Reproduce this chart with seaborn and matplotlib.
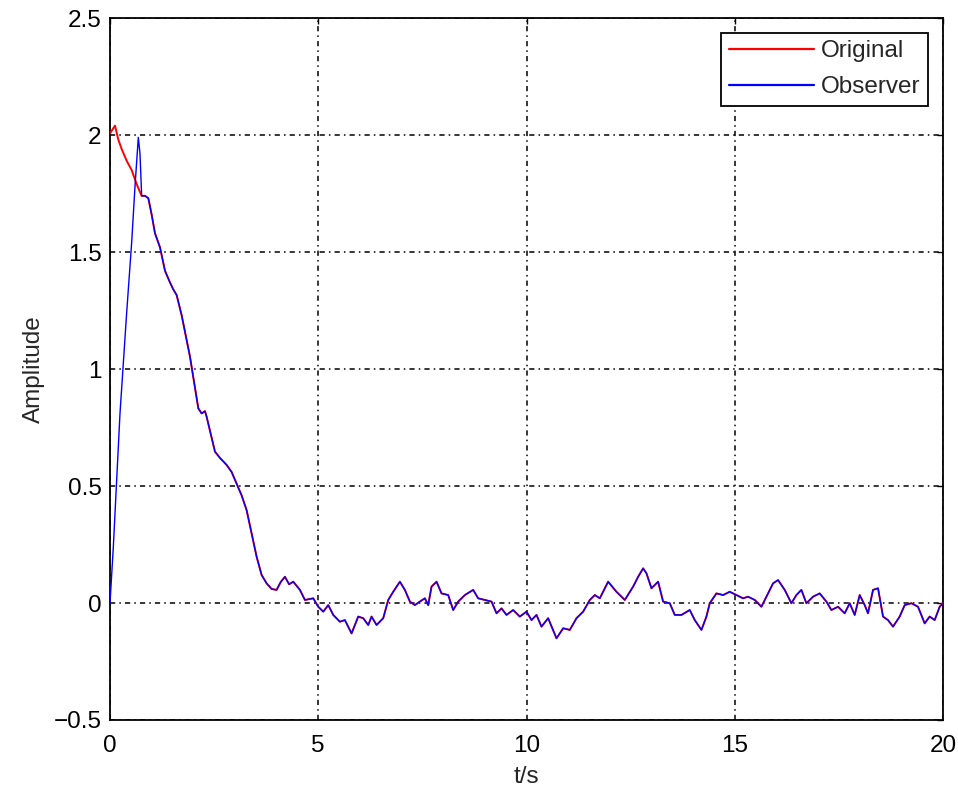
import numpy as np
import pandas as pd
import matplotlib
matplotlib.use("Agg")
import matplotlib.pyplot as plt
import seaborn as sns

# Start-up transient of the original signal (before the observer converges)
orig_start_t = [0.00, 0.12, 0.20, 0.28, 0.40, 0.52, 0.64]
orig_start_y = [2.007, 2.04, 1.98, 1.94, 1.89, 1.85, 1.79]

# Start-up transient of the observer estimate (rises from zero)
obs_start_t = [0.00, 0.08, 0.24, 0.40, 0.52, 0.60, 0.68, 0.72]
obs_start_y = [0.00, 0.24, 0.81, 1.24, 1.54, 1.78, 1.99, 1.92]

# Common trajectory once both curves coincide
shared_t = [0.76, 0.84, 0.92, 1.00, 1.08, 1.20, 1.32, 1.44, 1.52, 1.60, 1.72,
            1.92, 2.04, 2.12, 2.20, 2.28, 2.32, 2.52, 2.64, 2.80, 2.92, 3.04,
            3.16, 3.28, 3.52, 3.64, 3.76, 3.88, 4.00, 4.10, 4.20, 4.30, 4.40,
            4.56, 4.68, 4.88, 5.00, 5.12, 5.24, 5.36, 5.52, 5.64, 5.80, 5.96,
            6.08, 6.20, 6.28, 6.40, 6.56, 6.68, 6.80, 6.96, 7.08, 7.20, 7.32,
            7.44, 7.56, 7.64, 7.72, 7.84, 7.96, 8.12, 8.24, 8.36, 8.52, 8.72,
            8.84, 9.00, 9.16, 9.28, 9.40, 9.52, 9.68, 9.84, 10.00, 10.12, 10.24,
            10.36, 10.52, 10.72, 10.88, 11.04, 11.20, 11.36, 11.52, 11.64, 11.76,
            11.96, 12.16, 12.36, 12.56, 12.68, 12.80, 12.88, 13.00, 13.16, 13.28,
            13.44, 13.56, 13.72, 13.92, 14.04, 14.20, 14.32, 14.40, 14.56, 14.72,
            14.88, 15.04, 15.20, 15.32, 15.48, 15.64, 15.76, 15.92, 16.04, 16.20,
            16.36, 16.48, 16.60, 16.72, 16.88, 17.04, 17.20, 17.32, 17.48, 17.64,
            17.76, 17.88, 18.00, 18.12, 18.20, 18.32, 18.44, 18.56, 18.68, 18.80,
            18.96, 19.08, 19.24, 19.40, 19.56, 19.68, 19.80, 19.92, 20.00]
shared_y = [1.74, 1.74, 1.73, 1.66, 1.58, 1.52, 1.42, 1.37, 1.34, 1.316, 1.23,
            1.053, 0.92, 0.832, 0.81, 0.82, 0.796, 0.647, 0.62, 0.59, 0.56, 0.51,
            0.46, 0.397, 0.198, 0.12, 0.084, 0.06, 0.056, 0.09, 0.112, 0.08, 0.091,
            0.056, 0.013, 0.02, -0.016, -0.037, -0.009, -0.051, -0.08, -0.073,
            -0.13, -0.058, -0.065, -0.094, -0.058, -0.094, -0.065, 0.013, 0.048,
            0.091, 0.056, 0.006, -0.009, 0.006, 0.02, -0.009, 0.07, 0.091, 0.041,
            0.034, -0.03, 0.006, 0.034, 0.056, 0.02, 0.013, 0.006, -0.044, -0.023,
            -0.051, -0.03, -0.058, -0.037, -0.073, -0.051, -0.101, -0.065, -0.151,
            -0.108, -0.115, -0.065, -0.037, 0.013, 0.034, 0.02, 0.091, 0.048,
            0.013, 0.07, 0.112, 0.148, 0.127, 0.063, 0.091, 0.006, -0.001, -0.051,
            -0.051, -0.03, -0.073, -0.115, -0.058, -0.001, 0.041, 0.034, 0.048,
            0.034, 0.02, 0.027, 0.013, -0.016, 0.027, 0.084, 0.098, 0.056, -0.001,
            0.034, 0.056, -0.001, 0.027, 0.041, 0.006, -0.03, -0.016, -0.044,
            -0.001, -0.051, 0.034, -0.009, -0.044, 0.056, 0.063, -0.058, -0.073,
            -0.101, -0.058, -0.009, -0.001, -0.016, -0.087, -0.058, -0.073,
            -0.016, 0.0]

x_ticks = [0, 5, 10, 15, 20]
y_ticks = [-0.5, 0, 0.5, 1, 1.5, 2, 2.5]

sns.set_style("white")
plt.rcParams["font.family"] = ["Liberation Sans", "DejaVu Sans"]
plt.rcParams["axes.unicode_minus"] = True

orig = pd.DataFrame({"t": orig_start_t + shared_t, "amp": orig_start_y + shared_y})
obs = pd.DataFrame({"t": obs_start_t + shared_t, "amp": obs_start_y + shared_y})

fig = plt.figure(figsize=(9.58, 7.89), dpi=100)
ax = fig.add_axes([110 / 958, 1 - 720 / 789, 833 / 958, 702 / 789])

sns.lineplot(data=orig, x="t", y="amp", ax=ax, color="red", lw=1.4,
             sort=False, estimator=None, label="Original", zorder=3)
sns.lineplot(data=obs, x="t", y="amp", ax=ax, color="blue", lw=1.0,
             sort=False, estimator=None, label="Observer", zorder=4)

ax.set_xlim(0, 20)
ax.set_ylim(-0.5, 2.5)
ax.set_xticks(x_ticks)
ax.set_yticks(y_ticks)
ax.set_yticklabels(["\u22120.5", "0", "0.5", "1", "1.5", "2", "2.5"])

ax.grid(True, color="black", lw=1.1, linestyle=(0, (3.4, 2.7, 1.0, 2.7)))
ax.set_axisbelow(True)

for s in ax.spines.values():
    s.set_visible(True)
    s.set_color("black")
    s.set_linewidth(1.3)

ax.tick_params(axis="both", which="both", direction="in", length=4.5, width=1.0,
               top=True, right=True, labelsize=17.5, colors="black")
ax.tick_params(axis="x", pad=10.5)
ax.tick_params(axis="y", pad=6)

ax.set_xlabel("t/s", fontsize=17.5, labelpad=7)
ax.set_ylabel("Amplitude", fontsize=17.5, labelpad=6)

leg = ax.legend(loc="upper right", fontsize=17.5, frameon=True, fancybox=False,
                shadow=False, framealpha=1.0, edgecolor="black",
                borderaxespad=0.6, handlelength=3.5, handletextpad=0.3,
                labelspacing=0.58, borderpad=0.32)
leg.get_frame().set_linewidth(1.3)
for line in leg.get_lines():
    line.set_linewidth(1.6)

fig.savefig("out.png", dpi=100, facecolor="white")
